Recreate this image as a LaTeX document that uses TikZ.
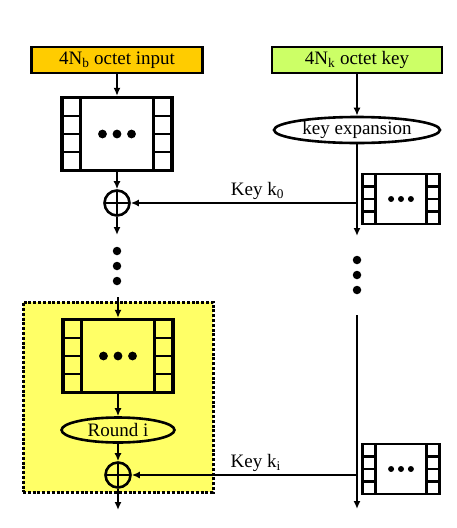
\documentclass[tikz,border=0pt]{standalone}
\usepackage{fontspec}
\setmainfont{Liberation Serif}
\usetikzlibrary{arrows.meta,shapes.geometric,calc}
\definecolor{inorange}{RGB}{255,204,0}
\definecolor{keylime}{RGB}{204,255,102}
\definecolor{rndyellow}{RGB}{255,255,102}
\tikzset{
  cells/.style={path picture={
    \path (path picture bounding box.north west) coordinate (nw)
          (path picture bounding box.south east) coordinate (se);
    \path ($(nw)!0.17!(se)$) coordinate (cl) ($(nw)!0.83!(se)$) coordinate (cr);
    \draw[black, line width=2.8pt] (cl |- nw) -- (cl |- se) (cr |- nw) -- (cr |- se);
    \foreach \f in {0.25,0.5,0.75} {
      \path ($(nw)!\f!(se)$) coordinate (rw);
      \draw[black, line width=2.4pt] (nw |- rw) -- (cl |- rw) (cr |- rw) -- (se |- rw);
    }
    \fill[black] ($(nw)!0.5!(se)$) circle (#1) +(-3.3*#1,0) circle (#1) +(3.3*#1,0) circle (#1);
  }},
  state/.style={draw, line width=3.2pt, inner sep=0, minimum width=110pt, minimum height=73pt, cells=4.4pt},
  keyblk/.style={draw, fill=white, line width=2.6pt, inner sep=0, minimum width=77pt, minimum height=50pt, cells=3pt},
  src/.style={draw, line width=2.8pt, inner sep=0, minimum width=171pt, minimum height=26pt},
  oval/.style={ellipse, draw, line width=2.6pt, inner sep=0},
  xor/.style={circle, draw, line width=2.6pt, inner sep=0, minimum size=25pt, path picture={
    \draw[line width=2.4pt] (path picture bounding box.north) -- (path picture bounding box.south)
      (path picture bounding box.west) -- (path picture bounding box.east);}},
  conn/.style={line width=2.5pt, -{Latex[length=8pt,width=7pt]}},
  dot/.style={circle, fill, inner sep=0, minimum size=8.5pt}
}
\begin{document}
\begin{tikzpicture}[x=1pt,y=-1pt,font=\fontsize{19}{22}\selectfont]
  \useasboundingbox (0,0) rectangle (456,528);
  \node[draw, fill=rndyellow, line width=3pt, dash pattern=on 3pt off 1.8pt, minimum width=190pt, minimum height=190pt] (rndbox) at (118,397) {};
  \node[src, fill=inorange] (inp) at (117,60) {4N\textsubscript{b} octet input};
  \node[src, fill=keylime, minimum width=170pt] (key) at (357,60) {4N\textsubscript{k} octet key};
  \node[state, fill=white] (st0) at (117,134) {};
  \node[xor] (x0) at (117,203) {};
  \node[oval, fill=white, minimum width=166pt, minimum height=26pt] (kexp) at (357,130) {key expansion};
  \node[keyblk] (k0blk) at (401,199) {};
  \node[state] (st1) at (118,356) {};
  \node[oval, minimum width=113pt, minimum height=25pt] (rnd) at (118,430) {Round i};
  \node[xor] (x1) at (118,475) {};
  \node[keyblk] (k1blk) at (401,469) {};
  \node[dot] (ld1) at (117,251) {};
  \node[dot] (ld2) at (117,266) {};
  \node[dot] (ld3) at (117,281) {};
  \node[dot] (rd1) at (357,260) {};
  \node[dot] (rd2) at (357,275) {};
  \node[dot] (rd3) at (357,290) {};
  \coordinate (r0) at (357,203);
  \coordinate (r1) at (357,475);
  \coordinate (lend0) at (117,235);
  \coordinate (lstart1) at (118,297);
  \coordinate (lend1) at (118,510);
  \coordinate (rend0) at (357,236);
  \coordinate (rstart1) at (357,315);
  \coordinate (rend1) at (357,509);
  \draw[conn] (inp) -- (st0);
  \draw[conn] (st0) -- (x0);
  \draw[conn] (x0) -- (lend0);
  \draw[conn] (lstart1) -- (st1);
  \draw[conn] (st1) -- (rnd);
  \draw[conn] (rnd) -- (x1);
  \draw[conn] (x1) -- (lend1);
  \draw[conn] (key) -- (kexp);
  \draw[conn] (kexp) -- (rend0);
  \draw[conn] (rstart1) -- (rend1);
  \draw[conn] (r0) -- node[above, pos=0.44, inner sep=2pt] (lk0) {Key k\textsubscript{0}} (x0);
  \draw[conn] (r1) -- node[above, pos=0.45, inner sep=2pt] (lk1) {Key k\textsubscript{i}} (x1);
\end{tikzpicture}
\end{document}
